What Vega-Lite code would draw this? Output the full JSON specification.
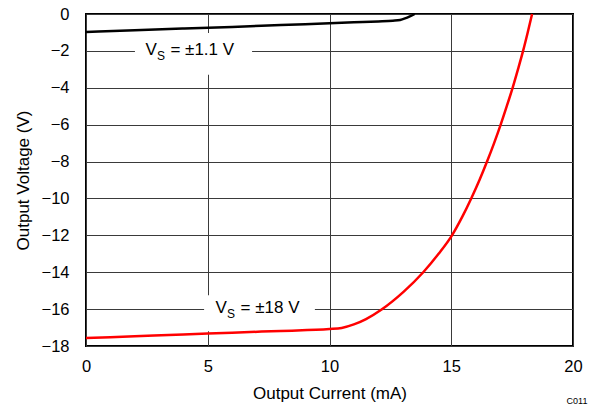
{
  "$schema": "https://vega.github.io/schema/vega-lite/v6.json",
  "width": 487,
  "height": 332,
  "autosize": "none",
  "padding": {"left": 86, "top": 14, "right": 27, "bottom": 63},
  "background": "white",
  "config": {
    "font": "Liberation Sans",
    "view": {"stroke": "#000000", "strokeWidth": 2},
    "axis": {
      "domain": false,
      "ticks": false,
      "grid": true,
      "gridColor": "#3a3a3a",
      "gridWidth": 1,
      "gridOpacity": 1,
      "labelFont": "Liberation Sans",
      "labelFontSize": 16.5,
      "labelColor": "#000000",
      "titleFont": "Liberation Sans",
      "titleFontSize": 17,
      "titleFontWeight": "normal",
      "titleColor": "#000000"
    }
  },
  "datasets": {
    "curves": [
      {"series": "1.1", "x": 0, "y": -0.98},
      {"series": "1.1", "x": 2, "y": -0.88},
      {"series": "1.1", "x": 4, "y": -0.79},
      {"series": "1.1", "x": 6, "y": -0.70},
      {"series": "1.1", "x": 8, "y": -0.60},
      {"series": "1.1", "x": 10, "y": -0.50},
      {"series": "1.1", "x": 11, "y": -0.45},
      {"series": "1.1", "x": 12, "y": -0.40},
      {"series": "1.1", "x": 12.6, "y": -0.36},
      {"series": "1.1", "x": 12.9, "y": -0.32},
      {"series": "1.1", "x": 13.1, "y": -0.24},
      {"series": "1.1", "x": 13.3, "y": -0.13},
      {"series": "1.1", "x": 13.5, "y": 0},
      {"series": "18", "x": 0, "y": -17.57},
      {"series": "18", "x": 2, "y": -17.47},
      {"series": "18", "x": 4, "y": -17.37},
      {"series": "18", "x": 6, "y": -17.28},
      {"series": "18", "x": 8, "y": -17.18},
      {"series": "18", "x": 10, "y": -17.08},
      {"series": "18", "x": 10.5, "y": -17.02},
      {"series": "18", "x": 11, "y": -16.83},
      {"series": "18", "x": 11.5, "y": -16.54},
      {"series": "18", "x": 12.14, "y": -16.02},
      {"series": "18", "x": 13.05, "y": -15.05},
      {"series": "18", "x": 13.85, "y": -14},
      {"series": "18", "x": 14.48, "y": -13},
      {"series": "18", "x": 15.03, "y": -12},
      {"series": "18", "x": 15.45, "y": -11},
      {"series": "18", "x": 15.82, "y": -10},
      {"series": "18", "x": 16.16, "y": -9},
      {"series": "18", "x": 16.47, "y": -8},
      {"series": "18", "x": 16.76, "y": -7},
      {"series": "18", "x": 17.03, "y": -6},
      {"series": "18", "x": 17.28, "y": -5},
      {"series": "18", "x": 17.52, "y": -4},
      {"series": "18", "x": 17.74, "y": -3},
      {"series": "18", "x": 17.95, "y": -2},
      {"series": "18", "x": 18.14, "y": -1},
      {"series": "18", "x": 18.32, "y": 0}
    ],
    "labels": [
      {"lx": 2.44, "ly": -2, "bx1": 2.01, "bx2": 6.82, "by1": -1.03, "by2": -3.3, "v": "V", "s": "S", "rest": "= ±1.1 V"},
      {"lx": 5.32, "ly": -16, "bx1": 4.85, "bx2": 9.40, "by1": -15.25, "by2": -17.2, "v": "V", "s": "S", "rest": "= ±18 V"}
    ],
    "code": [{"x": 20, "y": -18, "t": "C011"}]
  },
  "layer": [
    {
      "data": {"name": "labels"},
      "mark": {"type": "rect", "fill": "white", "stroke": null},
      "encoding": {
        "x": {"field": "bx1", "type": "quantitative", "scale": {"domain": [0, 20], "nice": false}, "axis": {"values": [0, 5, 10, 15, 20], "tickCount": 20, "title": "Output Current (mA)", "labelPadding": 12, "titlePadding": 11, "labelFlush": false, "labelOverlap": false, "labelBound": false}},
        "x2": {"field": "bx2"},
        "y": {"field": "by1", "type": "quantitative", "scale": {"domain": [-18, 0], "nice": false}, "axis": {"values": [-18, -16, -14, -12, -10, -8, -6, -4, -2, 0], "tickCount": 20, "title": "Output Voltage (V)", "labelPadding": 17, "titlePadding": 9, "labelFlush": false, "labelOverlap": false, "labelBound": false, "labelExpr": "replace(datum.label, '-', '−')"}},
        "y2": {"field": "by2"}
      }
    },
    {
      "data": {"name": "curves"},
      "mark": {"type": "line", "strokeWidth": 2.5, "interpolate": "monotone"},
      "encoding": {
        "x": {"field": "x", "type": "quantitative"},
        "y": {"field": "y", "type": "quantitative"},
        "color": {"field": "series", "type": "nominal", "scale": {"domain": ["1.1", "18"], "range": ["#000000", "#ff0000"]}, "legend": null},
        "order": {"field": "x", "type": "quantitative"}
      }
    },
    {
      "data": {"name": "labels"},
      "mark": {"type": "text", "align": "left", "baseline": "middle", "fontSize": 17, "dy": -1, "color": "#000000"},
      "encoding": {
        "x": {"field": "lx", "type": "quantitative"},
        "y": {"field": "ly", "type": "quantitative"},
        "text": {"field": "v"}
      }
    },
    {
      "data": {"name": "labels"},
      "mark": {"type": "text", "align": "left", "baseline": "middle", "fontSize": 12, "dx": 11.5, "dy": 5, "color": "#000000"},
      "encoding": {
        "x": {"field": "lx", "type": "quantitative"},
        "y": {"field": "ly", "type": "quantitative"},
        "text": {"field": "s"}
      }
    },
    {
      "data": {"name": "labels"},
      "mark": {"type": "text", "align": "left", "baseline": "middle", "fontSize": 17, "dx": 25, "dy": -1, "color": "#000000"},
      "encoding": {
        "x": {"field": "lx", "type": "quantitative"},
        "y": {"field": "ly", "type": "quantitative"},
        "text": {"field": "rest"}
      }
    },
    {
      "data": {"name": "code"},
      "mark": {"type": "text", "align": "center", "baseline": "middle", "fontSize": 9, "dx": 4, "dy": 55, "color": "#000000"},
      "encoding": {
        "x": {"field": "x", "type": "quantitative"},
        "y": {"field": "y", "type": "quantitative"},
        "text": {"field": "t"}
      }
    }
  ]
}
